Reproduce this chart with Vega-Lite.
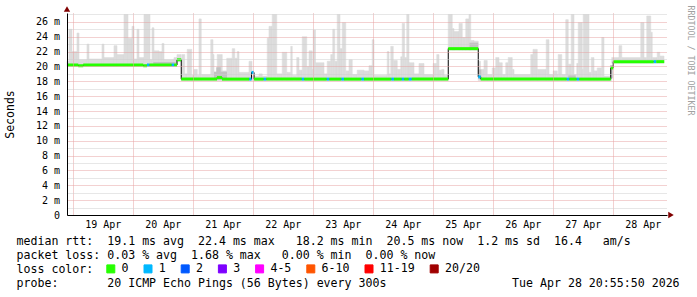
{
  "$schema": "https://vega.github.io/schema/vega-lite/v6.json",
  "width": 600,
  "height": 202,
  "autosize": {"type": "none"},
  "padding": {"left": 67, "top": 13, "right": 30, "bottom": 82},
  "background": "white",
  "config": {"view": {"stroke": null}, "font": "DejaVu Sans Mono", "axis": {"labelOverlap": false}},
  "datasets": {
    "smoke": [
      {"h0":21.5,"h1":22.3,"lo":20.0,"hi":20.7},{"h0":22.3,"h1":23.5,"lo":20.0,"hi":25.0},{"h0":23.5,"h1":25.5,"lo":20.0,"hi":22.0},{"h0":25.5,"h1":26.3,"lo":20.0,"hi":24.5},{"h0":26.3,"h1":29.5,"lo":20.0,"hi":20.9},{"h0":29.5,"h1":30.3,"lo":20.0,"hi":23.0},{"h0":30.3,"h1":35.5,"lo":20.0,"hi":21.0},{"h0":35.5,"h1":36.3,"lo":20.0,"hi":23.0},{"h0":36.3,"h1":40.3,"lo":20.0,"hi":21.2},{"h0":40.3,"h1":41.5,"lo":20.0,"hi":22.8},{"h0":41.5,"h1":44.3,"lo":20.0,"hi":21.6},{"h0":44.3,"h1":45.9,"lo":20.0,"hi":27.0},{"h0":45.9,"h1":47.5,"lo":20.0,"hi":23.8},{"h0":47.5,"h1":48.3,"lo":20.0,"hi":25.4},{"h0":48.3,"h1":49.5,"lo":20.0,"hi":21.0},{"h0":49.5,"h1":50.3,"lo":20.0,"hi":25.0},{"h0":50.3,"h1":52.3,"lo":20.0,"hi":21.2},{"h0":52.3,"h1":54.7,"lo":20.0,"hi":27.0},{"h0":54.7,"h1":55.5,"lo":20.0,"hi":20.9},{"h0":55.5,"h1":56.3,"lo":20.0,"hi":25.2},{"h0":56.3,"h1":58.3,"lo":20.0,"hi":22.1},{"h0":58.3,"h1":59.5,"lo":20.0,"hi":22.0},{"h0":59.5,"h1":60.3,"lo":20.0,"hi":23.1},{"h0":60.3,"h1":64.3,"lo":20.0,"hi":20.9},{"h0":64.3,"h1":65.5,"lo":20.0,"hi":21.2},
      {"h0":65.5,"h1":67.2,"lo":20.7,"hi":21.6},
      {"h0":67.2,"h1":67.5,"lo":18.1,"hi":18.8},{"h0":67.5,"h1":68.6,"lo":18.1,"hi":21.6},{"h0":68.6,"h1":69.6,"lo":18.1,"hi":19.0},{"h0":69.6,"h1":71.4,"lo":18.1,"hi":22.3},{"h0":71.4,"h1":72.3,"lo":18.1,"hi":18.8},{"h0":72.3,"h1":73.6,"lo":18.1,"hi":19.6},{"h0":73.6,"h1":74.3,"lo":18.1,"hi":18.8},{"h0":74.3,"h1":75.2,"lo":18.1,"hi":26.4},{"h0":75.2,"h1":79.0,"lo":18.1,"hi":18.9},{"h0":79.0,"h1":79.9,"lo":18.1,"hi":23.6},{"h0":79.9,"h1":80.3,"lo":18.1,"hi":21.6},{"h0":80.3,"h1":81.6,"lo":18.1,"hi":19.0},{"h0":81.6,"h1":83.6,"lo":18.1,"hi":21.6},{"h0":83.6,"h1":85.4,"lo":18.1,"hi":19.4},{"h0":85.4,"h1":87.6,"lo":18.1,"hi":21.1},{"h0":87.6,"h1":88.6,"lo":18.1,"hi":22.4},{"h0":88.6,"h1":89.6,"lo":18.1,"hi":21.1},{"h0":89.6,"h1":90.3,"lo":18.1,"hi":22.0},{"h0":90.3,"h1":94.3,"lo":18.1,"hi":19.2},{"h0":94.3,"h1":95.5,"lo":18.1,"hi":20.7},{"h0":95.5,"h1":98.3,"lo":18.1,"hi":18.7},{"h0":98.3,"h1":99.6,"lo":18.1,"hi":19.0},{"h0":99.6,"h1":101.6,"lo":18.1,"hi":18.7},{"h0":101.6,"h1":102.3,"lo":18.1,"hi":23.8},{"h0":102.3,"h1":103.6,"lo":18.1,"hi":25.4},{"h0":103.6,"h1":105.4,"lo":18.1,"hi":27.0},{"h0":105.4,"h1":107.6,"lo":18.1,"hi":19.0},{"h0":107.6,"h1":109.4,"lo":18.1,"hi":21.9},{"h0":109.4,"h1":111.0,"lo":18.1,"hi":19.2},{"h0":111.0,"h1":111.6,"lo":18.1,"hi":22.7},{"h0":111.6,"h1":113.4,"lo":18.1,"hi":18.8},{"h0":113.4,"h1":114.3,"lo":18.1,"hi":21.2},{"h0":114.3,"h1":115.6,"lo":18.1,"hi":19.5},{"h0":115.6,"h1":117.4,"lo":18.1,"hi":24.0},{"h0":117.4,"h1":118.3,"lo":18.1,"hi":20.0},{"h0":118.3,"h1":119.6,"lo":18.1,"hi":22.1},{"h0":119.6,"h1":120.0,"lo":18.1,"hi":19.6},{"h0":120.0,"h1":120.9,"lo":18.1,"hi":24.9},{"h0":120.9,"h1":124.3,"lo":18.1,"hi":20.5},{"h0":124.3,"h1":125.6,"lo":18.1,"hi":19.0},{"h0":125.6,"h1":127.0,"lo":18.1,"hi":20.7},{"h0":127.0,"h1":127.8,"lo":18.1,"hi":21.6},{"h0":127.8,"h1":128.6,"lo":18.1,"hi":25.0},{"h0":128.6,"h1":129.6,"lo":18.1,"hi":20.7},{"h0":129.6,"h1":130.7,"lo":18.1,"hi":27.0},{"h0":130.7,"h1":131.6,"lo":18.1,"hi":22.4},{"h0":131.6,"h1":133.0,"lo":18.1,"hi":25.9},{"h0":133.0,"h1":134.3,"lo":18.1,"hi":19.4},{"h0":134.3,"h1":135.6,"lo":18.1,"hi":20.9},{"h0":135.6,"h1":137.6,"lo":18.1,"hi":18.9},{"h0":137.6,"h1":140.3,"lo":18.1,"hi":19.5},{"h0":140.3,"h1":142.3,"lo":18.1,"hi":19.4},{"h0":142.3,"h1":143.6,"lo":18.1,"hi":20.1},{"h0":143.6,"h1":144.3,"lo":18.1,"hi":23.6},{"h0":144.3,"h1":149.6,"lo":18.1,"hi":18.8},{"h0":149.6,"h1":150.3,"lo":18.1,"hi":22.0},{"h0":150.3,"h1":151.0,"lo":18.1,"hi":19.0},{"h0":151.0,"h1":152.0,"lo":18.1,"hi":22.7},{"h0":152.0,"h1":153.6,"lo":18.1,"hi":20.8},{"h0":153.6,"h1":155.0,"lo":18.1,"hi":19.6},{"h0":155.0,"h1":155.6,"lo":18.1,"hi":21.3},{"h0":155.6,"h1":156.5,"lo":18.1,"hi":25.8},{"h0":156.5,"h1":157.4,"lo":18.1,"hi":21.2},{"h0":157.4,"h1":158.3,"lo":18.1,"hi":27.0},{"h0":158.3,"h1":160.3,"lo":18.1,"hi":20.5},{"h0":160.3,"h1":162.3,"lo":18.1,"hi":19.0},{"h0":162.3,"h1":164.3,"lo":18.1,"hi":20.4},{"h0":164.3,"h1":168.0,"lo":18.1,"hi":18.9},{"h0":168.0,"h1":169.4,"lo":18.1,"hi":20.4},{"h0":169.4,"h1":170.3,"lo":18.1,"hi":21.6},{"h0":170.3,"h1":171.4,"lo":18.1,"hi":19.5},{"h0":171.4,"h1":172.3,"lo":18.1,"hi":19.6},{"h0":172.3,"h1":174.0,"lo":18.1,"hi":18.8},
      {"h0":174.0,"h1":175.6,"lo":22.2,"hi":27.0},{"h0":175.6,"h1":176.3,"lo":22.2,"hi":25.1},{"h0":176.3,"h1":178.3,"lo":22.2,"hi":24.7},{"h0":178.3,"h1":179.6,"lo":22.2,"hi":25.8},{"h0":179.6,"h1":181.0,"lo":22.2,"hi":23.9},{"h0":181.0,"h1":182.3,"lo":22.2,"hi":26.4},{"h0":182.3,"h1":183.0,"lo":22.2,"hi":27.0},{"h0":183.0,"h1":184.3,"lo":22.2,"hi":23.5},{"h0":184.3,"h1":186.0,"lo":22.2,"hi":23.4},
      {"h0":186.0,"h1":186.9,"lo":18.1,"hi":20.7},{"h0":186.9,"h1":188.3,"lo":18.1,"hi":19.6},{"h0":188.3,"h1":189.6,"lo":18.1,"hi":20.8},{"h0":189.6,"h1":191.6,"lo":18.1,"hi":18.9},{"h0":191.6,"h1":193.0,"lo":18.1,"hi":19.8},{"h0":193.0,"h1":194.3,"lo":18.1,"hi":21.2},{"h0":194.3,"h1":195.6,"lo":18.1,"hi":20.5},{"h0":195.6,"h1":197.0,"lo":18.1,"hi":18.9},{"h0":197.0,"h1":198.0,"lo":18.1,"hi":20.5},{"h0":198.0,"h1":199.6,"lo":18.1,"hi":21.2},{"h0":199.6,"h1":200.3,"lo":18.1,"hi":19.6},{"h0":200.3,"h1":207.0,"lo":18.1,"hi":18.9},{"h0":207.0,"h1":207.9,"lo":18.1,"hi":21.6},{"h0":207.9,"h1":209.6,"lo":18.1,"hi":22.3},{"h0":209.6,"h1":213.2,"lo":18.1,"hi":19.6},{"h0":213.2,"h1":214.3,"lo":18.1,"hi":23.6},{"h0":214.3,"h1":216.0,"lo":18.1,"hi":18.9},{"h0":216.0,"h1":217.6,"lo":18.1,"hi":19.4},{"h0":217.6,"h1":218.0,"lo":18.1,"hi":18.9},{"h0":218.0,"h1":219.4,"lo":18.1,"hi":21.6},{"h0":219.4,"h1":221.0,"lo":18.1,"hi":18.9},{"h0":221.0,"h1":222.0,"lo":18.1,"hi":26.3},{"h0":222.0,"h1":223.2,"lo":18.1,"hi":20.3},{"h0":223.2,"h1":224.3,"lo":18.1,"hi":27.0},{"h0":224.3,"h1":225.4,"lo":18.1,"hi":18.9},{"h0":225.4,"h1":226.0,"lo":18.1,"hi":20.4},{"h0":226.0,"h1":227.6,"lo":18.1,"hi":25.9},{"h0":227.6,"h1":228.0,"lo":18.1,"hi":19.6},{"h0":228.0,"h1":230.3,"lo":18.1,"hi":27.0},{"h0":230.3,"h1":231.2,"lo":18.1,"hi":19.2},{"h0":231.2,"h1":232.3,"lo":18.1,"hi":21.2},{"h0":232.3,"h1":233.6,"lo":18.1,"hi":19.4},{"h0":233.6,"h1":235.4,"lo":18.1,"hi":19.8},{"h0":235.4,"h1":236.3,"lo":18.1,"hi":23.9},{"h0":236.3,"h1":239.4,"lo":18.1,"hi":18.7},
      {"h0":239.4,"h1":242.3,"lo":20.45,"hi":21.2},{"h0":242.3,"h1":243.4,"lo":20.45,"hi":22.8},{"h0":243.4,"h1":251.0,"lo":20.45,"hi":21.2},{"h0":251.0,"h1":252.3,"lo":20.45,"hi":25.9},{"h0":252.3,"h1":253.4,"lo":20.45,"hi":21.2},{"h0":253.4,"h1":255.0,"lo":20.45,"hi":26.8},{"h0":255.0,"h1":255.6,"lo":20.45,"hi":24.6},{"h0":255.6,"h1":257.6,"lo":20.45,"hi":21.2},{"h0":257.6,"h1":258.6,"lo":20.45,"hi":21.9},{"h0":258.6,"h1":260.3,"lo":20.45,"hi":21.4}
    ],
    "dark": [
      {"h0":80.3,"h1":85.5,"lo":18.2,"hi":19.3},
      {"h0":81.2,"h1":83.0,"lo":18.2,"hi":19.9},
      {"h0":186.0,"h1":187.2,"lo":18.3,"hi":19.6},
      {"h0":238.8,"h1":239.8,"lo":18.4,"hi":20.2},
      {"h0":182.5,"h1":186.0,"lo":22.3,"hi":23.2},
      {"h0":56.0,"h1":65.0,"lo":20.1,"hi":20.6},
      {"h0":222.0,"h1":225.0,"lo":18.2,"hi":18.8}
    ],
    "median": [
      {"h0":21.5,"h1":26.0,"med":20.2,"loss":"0"},
      {"h0":26.0,"h1":28.0,"med":20.1,"loss":"0"},
      {"h0":28.0,"h1":52.0,"med":20.2,"loss":"0"},
      {"h0":52.0,"h1":53.5,"med":20.1,"loss":"0"},
      {"h0":53.5,"h1":54.5,"med":20.2,"loss":"1"},
      {"h0":54.5,"h1":63.4,"med":20.2,"loss":"0"},
      {"h0":63.4,"h1":64.4,"med":20.2,"loss":"1"},
      {"h0":64.4,"h1":65.5,"med":20.2,"loss":"0"},
      {"h0":65.5,"h1":67.2,"med":20.9,"loss":"0"},
      {"h0":67.2,"h1":81.5,"med":18.3,"loss":"0"},
      {"h0":81.5,"h1":83.5,"med":18.5,"loss":"0"},
      {"h0":83.5,"h1":94.4,"med":18.3,"loss":"0"},
      {"h0":94.4,"h1":95.3,"med":18.3,"loss":"1"},
      {"h0":95.3,"h1":96.3,"med":19.2,"loss":"1"},
      {"h0":96.3,"h1":100.2,"med":18.3,"loss":"0"},
      {"h0":100.2,"h1":101.2,"med":18.3,"loss":"1"},
      {"h0":101.2,"h1":115.4,"med":18.3,"loss":"0"},
      {"h0":115.4,"h1":116.4,"med":18.3,"loss":"1"},
      {"h0":116.4,"h1":125.4,"med":18.3,"loss":"0"},
      {"h0":125.4,"h1":126.4,"med":18.3,"loss":"1"},
      {"h0":126.4,"h1":131.3,"med":18.3,"loss":"0"},
      {"h0":131.3,"h1":132.3,"med":18.3,"loss":"1"},
      {"h0":132.3,"h1":139.3,"med":18.3,"loss":"0"},
      {"h0":139.3,"h1":140.3,"med":18.3,"loss":"1"},
      {"h0":140.3,"h1":151.3,"med":18.3,"loss":"0"},
      {"h0":151.3,"h1":152.3,"med":18.3,"loss":"1"},
      {"h0":152.3,"h1":155.4,"med":18.3,"loss":"0"},
      {"h0":155.4,"h1":156.4,"med":18.3,"loss":"1"},
      {"h0":156.4,"h1":158.2,"med":18.3,"loss":"0"},
      {"h0":158.2,"h1":159.4,"med":18.3,"loss":"1"},
      {"h0":159.4,"h1":174.0,"med":18.3,"loss":"0"},
      {"h0":174.0,"h1":186.0,"med":22.4,"loss":"0"},
      {"h0":186.0,"h1":187.0,"med":18.6,"loss":"1"},
      {"h0":187.0,"h1":221.4,"med":18.3,"loss":"0"},
      {"h0":221.4,"h1":222.4,"med":18.3,"loss":"1"},
      {"h0":222.4,"h1":225.4,"med":18.3,"loss":"0"},
      {"h0":225.4,"h1":226.4,"med":18.3,"loss":"1"},
      {"h0":226.4,"h1":239.0,"med":18.3,"loss":"0"},
      {"h0":239.0,"h1":240.0,"med":19.8,"loss":"0"},
      {"h0":240.0,"h1":256.2,"med":20.65,"loss":"0"},
      {"h0":256.2,"h1":257.2,"med":20.65,"loss":"1"},
      {"h0":257.2,"h1":260.4,"med":20.65,"loss":"0"}
    ],
    "days": [
      {"h":36,"day":"19 Apr"},{"h":60,"day":"20 Apr"},{"h":84,"day":"21 Apr"},{"h":108,"day":"22 Apr"},{"h":132,"day":"23 Apr"},
      {"h":156,"day":"24 Apr"},{"h":180,"day":"25 Apr"},{"h":204,"day":"26 Apr"},{"h":228,"day":"27 Apr"},{"h":252,"day":"28 Apr"}
    ],
    "arrowUp": [{"h": 21.5, "v": 27.75}],
    "arrowRight": [{"h": 263.1, "v": 0}]
  },
  "layer": [
    {
      "data": {"name": "smoke"},
      "mark": {"type": "rect", "color": "#dcdcdc", "stroke": "#dcdcdc", "strokeWidth": 0.6},
      "encoding": {
        "x": {
          "field": "h0", "type": "quantitative",
          "scale": {"domain": [21.5, 261.5], "nice": false, "zero": false},
          "axis": {
            "values": [24,30,36,42,48,54,60,66,72,78,84,90,96,102,108,114,120,126,132,138,144,150,156,162,168,174,180,186,192,198,204,210,216,222,228,234,240,246,252,258],
            "labels": false,
            "ticks": false,
            "domain": true, "domainColor": "black", "domainWidth": 1,
            "grid": true,
            "gridColor": {"condition": {"test": "datum.value % 24 === 0", "value": "#e6a3a3"}, "value": "#cfcfcf"},
            "gridDash": [1, 1], "gridWidth": 1,
            "zindex": 1,
            "title": [
              "median rtt:\u00a0\u00a019.1 ms avg\u00a0\u00a022.4 ms max\u00a0\u00a0\u00a018.2 ms min\u00a0\u00a020.5 ms now\u00a0\u00a01.2 ms sd\u00a0\u00a016.4\u00a0\u00a0\u00a0am/s",
              "packet loss:\u00a00.03 % avg\u00a0\u00a01.68 % max\u00a0\u00a0\u00a00.00 % min\u00a0\u00a00.00 % now",
              "loss color:",
              "probe:\u00a0\u00a0\u00a0\u00a0\u00a0\u00a0\u00a020 ICMP Echo Pings (56 Bytes) every 300s\u00a0\u00a0\u00a0\u00a0\u00a0\u00a0\u00a0\u00a0\u00a0\u00a0\u00a0\u00a0\u00a0\u00a0\u00a0\u00a0\u00a0\u00a0Tue Apr 28 20:55:50 2026"
            ],
            "titleFont": "DejaVu Sans Mono", "titleFontSize": 11.6, "titleFontWeight": "normal", "titleColor": "black",
            "titleAlign": "left", "titleAnchor": "start", "titleBaseline": "top",
            "titleX": -51, "titleY": 20.5, "titleLineHeight": 14
          }
        },
        "x2": {"field": "h1"},
        "y": {
          "field": "lo", "type": "quantitative",
          "scale": {"domain": [0, 27.2], "nice": false},
          "axis": {
            "values": [0,1,2,3,4,5,6,7,8,9,10,11,12,13,14,15,16,17,18,19,20,21,22,23,24,25,26,27],
            "labelExpr": "datum.value === 0 ? '0' : (datum.value % 2 === 0 ? datum.value + ' m' : '')",
            "labelOverlap": false, "labelFlush": false, "labelBound": false,
            "labelFont": "DejaVu Sans Mono", "labelFontSize": 10, "labelColor": "black",
            "labelPadding": 7.5, "labelAlign": "right", "labelBaseline": "middle",
            "ticks": false,
            "domain": true, "domainColor": "black", "domainWidth": 1,
            "grid": true,
            "gridColor": {"condition": {"test": "datum.value % 2 === 0", "value": "#e6a3a3"}, "value": "#cfcfcf"},
            "gridDash": [1, 1], "gridWidth": 1,
            "zindex": 1,
            "title": "Seconds",
            "titleFont": "DejaVu Sans Mono", "titleFontSize": 11.5, "titleFontWeight": "normal", "titleColor": "black",
            "titleAngle": -90, "titleAlign": "center", "titleBaseline": "middle",
            "titleX": -57, "titleY": 101
          }
        },
        "y2": {"field": "hi"}
      }
    },
    {
      "data": {"name": "dark"},
      "mark": {"type": "rect", "color": "#c2c2c2"},
      "encoding": {
        "x": {"field": "h0", "type": "quantitative"},
        "x2": {"field": "h1"},
        "y": {"field": "lo", "type": "quantitative", "axis": null},
        "y2": {"field": "hi"}
      }
    },
    {
      "data": {"name": "median"},
      "mark": {"type": "line", "interpolate": "step-after", "color": "black", "strokeWidth": 1},
      "encoding": {
        "x": {"field": "h0", "type": "quantitative"},
        "y": {"field": "med", "type": "quantitative", "axis": null}
      }
    },
    {
      "data": {"name": "median"},
      "mark": {"type": "rule", "strokeWidth": 3, "strokeCap": "butt"},
      "encoding": {
        "x": {"field": "h0", "type": "quantitative"},
        "x2": {"field": "h1"},
        "y": {"field": "med", "type": "quantitative", "axis": null},
        "color": {
          "field": "loss", "type": "nominal",
          "scale": {
            "domain": ["0", "1", "2", "3", "4-5", "6-10", "11-19", "20/20"],
            "range": ["#26ff00", "#00b8ff", "#0059ff", "#7e00ff", "#ff00ff", "#ff5500", "#ff0000", "#a00000"]
          },
          "legend": {
            "title": null,
            "orient": "none", "legendX": 38, "legendY": 250,
            "direction": "horizontal",
            "labelFont": "DejaVu Sans Mono", "labelFontSize": 11.6, "labelColor": "black",
            "labelOffset": 5, "columnPadding": 12.2,
            "symbolType": "square", "symbolSize": 64, "symbolStrokeColor": "black", "symbolStrokeWidth": 1, "symbolOpacity": 1,
            "padding": 0,
            "encode": {
              "symbols": {
                "update": {
                  "fill": {"scale": "color", "field": "value"},
                  "stroke": {"value": "black"},
                  "strokeWidth": {"value": 1},
                  "opacity": {"value": 1}
                }
              }
            }
          }
        }
      }
    },
    {
      "data": {"name": "days"},
      "mark": {"type": "text", "font": "DejaVu Sans Mono", "fontSize": 10, "color": "black", "align": "center", "baseline": "top", "dy": 4.5},
      "encoding": {
        "x": {"field": "h", "type": "quantitative"},
        "y": {"datum": 0, "type": "quantitative", "axis": null},
        "text": {"field": "day"}
      }
    },
    {
      "data": {"name": "arrowUp"},
      "mark": {"type": "point", "shape": "triangle-up", "filled": true, "color": "#800000", "size": 40, "opacity": 1},
      "encoding": {
        "x": {"field": "h", "type": "quantitative"},
        "y": {"field": "v", "type": "quantitative", "axis": null}
      }
    },
    {
      "data": {"name": "arrowRight"},
      "mark": {"type": "point", "shape": "triangle-right", "filled": true, "color": "#800000", "size": 40, "opacity": 1},
      "encoding": {
        "x": {"field": "h", "type": "quantitative"},
        "y": {
          "field": "v", "type": "quantitative",
          "axis": {
            "orient": "right", "labels": false, "ticks": false, "domain": false, "grid": false,
            "title": "RRDTOOL / TOBI OETIKER",
            "titleFont": "DejaVu Sans Mono", "titleFontSize": 8.3, "titleFontWeight": "normal", "titleColor": "#a0a0a0",
            "titleAngle": 90, "titleAlign": "left", "titleBaseline": "middle",
            "titleX": 22, "titleY": -8
          }
        }
      }
    }
  ],
  "resolve": {"axis": {"y": "independent"}}
}
